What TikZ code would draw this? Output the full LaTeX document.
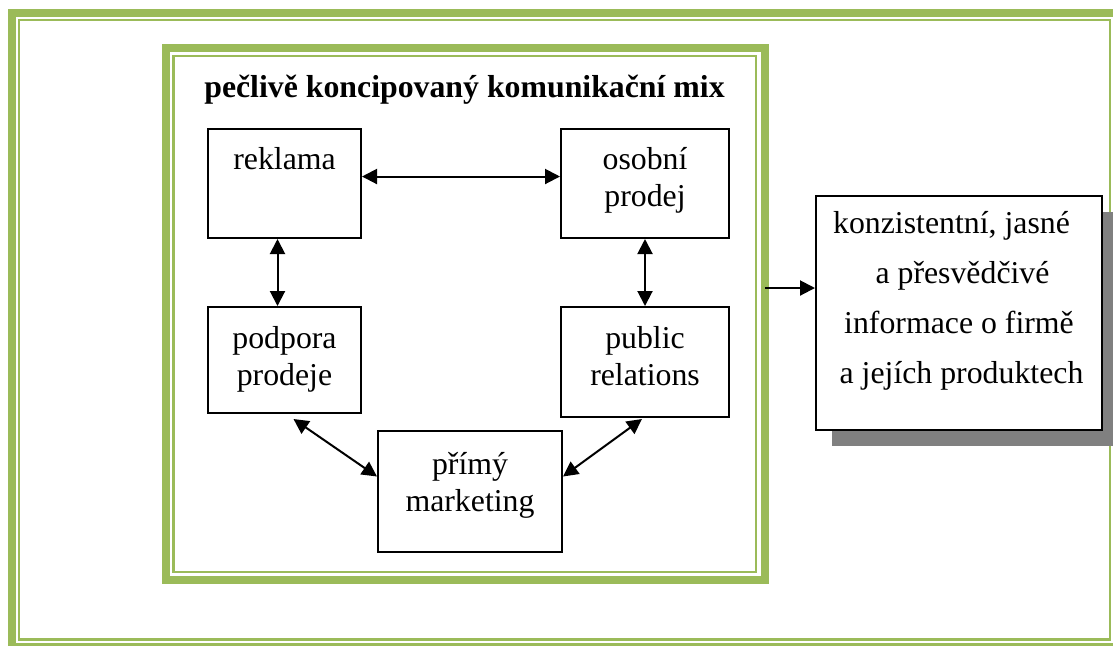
\documentclass[tikz,border=0pt]{standalone}
\usepackage{fontspec}
\setmainfont{Liberation Serif}
\usetikzlibrary{arrows.meta, calc, shadows}

\definecolor{framegreen}{HTML}{9BBB59}
\definecolor{shadowgray}{HTML}{808080}

\begin{document}
\begin{tikzpicture}[x=0.5pt, y=-0.5pt, >={Triangle[length=7.5pt, width=7.5pt]},
    font=\fontsize{15.9pt}{18.5pt}\selectfont,
    framethick/.style={draw=framegreen, line width=4pt},
    framethin/.style={draw=framegreen, line width=1.25pt},
    tool/.style={draw, line width=1pt, fill=white, align=center, inner sep=0pt},
    link/.style={<->, line width=1pt}]

    % --- 1. Page frame (thick + thin green line) ---
    \useasboundingbox (0,0) rectangle (1113,645);
    \draw[framethick] (11.5,12.5) rectangle (1117.5,646.5);
    \draw[framethin] (19,20) rectangle (1110,639.5);

    % --- 2. Frame round the mix ---
    \node[framethick, outer sep=0pt, inner sep=0pt,
          minimum width=299.75pt, minimum height=266pt] (mixframe) at (465.25,314) {};
    \draw[framethin] ($(mixframe.north west)+(8,8)$) rectangle ($(mixframe.south east)+(-9,-8)$);

    \node[font=\fontsize{15.9pt}{18.5pt}\selectfont\bfseries, anchor=base] (mixtitle)
        at (464.5,97) {pečlivě koncipovaný komunikační mix};

    % --- 3. The five tools ---
    % text height = first baseline + one line per extra line
    \node[tool, minimum width=76.5pt, text height=20pt, text depth=34.5pt] (reklama)
        at (284.5,183.5) {reklama};
    \node[tool, minimum width=84pt, text height=38.5pt, text depth=16pt] (osobni)
        at (645,183.5) {osobní\\prodej};
    \node[tool, minimum width=76.5pt, text height=39pt, text depth=14pt] (podpora)
        at (284.5,360) {podpora\\prodeje};
    \node[tool, minimum width=84pt, text height=39pt, text depth=16pt] (public)
        at (645,362) {public\\relations};
    \node[tool, minimum width=92pt, text height=40pt, text depth=20.5pt] (primy)
        at (470,491.5) {přímý\\marketing};

    % --- 4. Links between the tools ---
    \draw[link] ($(reklama.east)+(0,-7)$) -- ($(osobni.west)+(0,-7)$);
    \draw[link] ($(reklama.south)+(-7,0)$) -- ($(podpora.north)+(-7,0)$);
    \draw[link] (osobni.south) -- (public.north);
    \draw[link] ($(podpora.south)+(9,5)$) -- ($(primy.west)+(0,-15)$);
    \draw[link] ($(public.south)+(-3,1)$) -- ($(primy.east)+(0,-15)$);

    % --- 5. Result ---
    \node[tool, font=\fontsize{15.9pt}{25pt}\selectfont, minimum width=143pt,
          text height=93.5pt, text depth=23.5pt,
          drop shadow={fill=shadowgray, opacity=1, shadow xshift=8pt, shadow yshift=-8pt}] (info)
        at (959,313) {konzistentní, jasné\hspace*{7.5pt}\\\hspace*{3.5pt}a přesvědčivé\\
        informace o firmě\hspace*{8.5pt}\\\hspace*{2.5pt}a jejích produktech};

    \coordinate (tap) at ($(info.west)+(0,-25)$);
    \draw[->, line width=1pt] (tap -| mixframe.east) -- (tap);

\end{tikzpicture}
\end{document}
